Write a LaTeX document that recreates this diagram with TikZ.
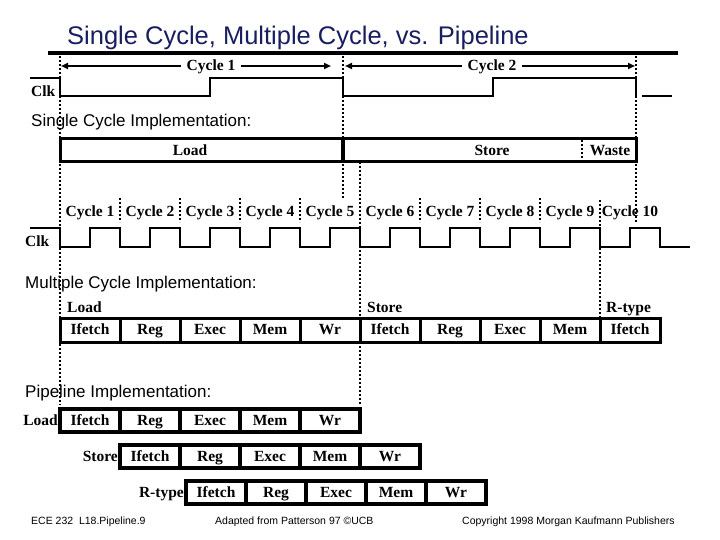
\documentclass[tikz,border=0pt]{standalone}
\usepackage{fontspec}
\setmainfont{Liberation Serif}
\setsansfont{Liberation Sans}
\usetikzlibrary{arrows.meta}
\definecolor{titleblue}{RGB}{25,30,95}
\begin{document}
\begin{tikzpicture}[x=1pt,y=-1pt,
  clk/.style={line width=2.5pt},
  dots/.style={line width=2pt,dash pattern=on 2pt off 2pt},
  lbl/.style={font=\fontsize{15.5}{15.5}\selectfont\bfseries, inner sep=0pt, text height=12pt, text depth=3pt},
  cell/.style={draw, line width=3pt, minimum width=60pt, minimum height=24pt, inner sep=0pt, lbl},
  pcell/.style={cell, line width=4pt, minimum height=23pt},
  head/.style={font=\sffamily\fontsize{17}{17}\selectfont, anchor=west, inner sep=0pt},
  foot/.style={font=\sffamily\fontsize{10.5}{10.5}\selectfont, anchor=west, inner sep=0pt},
  cyc/.style={line width=2pt, {Triangle[length=7pt,width=6pt]}-{Triangle[length=7pt,width=6pt]}},
]
\useasboundingbox (0,0) rectangle (720,540);
% title
\node[font=\sffamily\fontsize{25.5}{25.5}\selectfont, text=titleblue, anchor=west, inner sep=0pt] (title) at (67,38) {Single Cycle, Multiple Cycle, vs. Pipeline};
\draw[line width=4pt] (48,53) -- (678,53);
% long dotted guide lines
\draw[dots] (60,56) -- (60,405);
\draw[dots] (343,56) -- (343,198);
\draw[dots] (636,56) -- (636,222);
\draw[dots] (360,162) -- (360,405);
\draw[dots] (600,200) -- (600,318);
\foreach \x in {120,180,240,300,420,480,540} \draw[dots] (\x,198) -- (\x,222);
% cycle arrows
\coordinate (c1a) at (61,66); \coordinate (c1b) at (331,66);
\coordinate (c2a) at (345,66); \coordinate (c2b) at (635,66);
\draw[cyc] (c1a) -- (c1b);
\draw[cyc] (c2a) -- (c2b);
\node[lbl, fill=white, inner xsep=6pt, inner ysep=0pt] (cy1) at (211,66) {Cycle 1};
\node[lbl, fill=white, inner xsep=6pt, inner ysep=0pt] (cy2) at (492,66) {Cycle 2};
% single clock
\draw[clk] (30,78) -- (60,78) -- (60,96) -- (210,96) -- (210,78) -- (343,78) -- (343,96) -- (493,96) -- (493,78) -- (636,78) -- (636,96);
\draw[clk] (642,96) -- (672,96);
\node[lbl, anchor=west] (clka) at (31,92) {Clk};
\node[head] (hsingle) at (31,122) {Single Cycle Implementation:};
% single cycle box
\draw[line width=3pt] (60,139) rectangle (636,162);
\draw[line width=4pt] (343,139) -- (343,162);
\draw[dots] (582,140) -- (582,161);
\node[lbl] (sload) at (190,151) {Load};
\node[lbl] (sstore) at (492,151) {Store};
\node[lbl] (swaste) at (610,151) {Waste};
% multiple cycle clock
\foreach \k in {1,...,10} \node[lbl] (cyc\k) at ({60*\k+30},212) {Cycle \k};
\draw[clk] (30,228) -- (60,228) \foreach \k in {0,...,9} { -- ({60+60*\k},247) -- ({90+60*\k},247) -- ({90+60*\k},228) -- ({120+60*\k},228) } -- (660,247) -- (690,247);
\node[lbl, anchor=west] (clkb) at (25,242) {Clk};
\node[head] (hmulti) at (25,284) {Multiple Cycle Implementation:};
\node[lbl, anchor=west] (mload) at (67,308) {Load};
\node[lbl, anchor=west] (mstore) at (367,308) {Store};
\node[lbl, anchor=west] (mrtype) at (606,308) {R-type};
\foreach [count=\i] \t in {Ifetch,Reg,Exec,Mem,Wr,Ifetch,Reg,Exec,Mem,Ifetch}
  \node[cell] (m\i) at ({60*\i+30},330) {\t};
% pipeline
\node[head] (hpipe) at (25,393) {Pipeline Implementation:};
\node[lbl, anchor=east] (pload) at (58,420.5) {Load};
\node[lbl, anchor=east] (pstore) at (118,456.5) {Store};
\node[lbl, anchor=east] (prtype) at (184,492.5) {R-type};
\foreach [count=\i] \t in {Ifetch,Reg,Exec,Mem,Wr} {
  \node[pcell] (pa\i) at ({60*\i+30},420.5) {\t};
  \node[pcell] (pb\i) at ({60*\i+90},456.5) {\t};
  \node[pcell] (pc\i) at ({60*\i+156},492.5) {\t};
}
% footer
\node[foot] (f1) at (31,522) {ECE 232\ \ L18.Pipeline.9};
\node[foot] (f2) at (215,522) {Adapted from Patterson 97 \textcopyright UCB};
\node[foot] (f3) at (462,522) {Copyright 1998 Morgan Kaufmann Publishers};
\end{tikzpicture}
\end{document}
